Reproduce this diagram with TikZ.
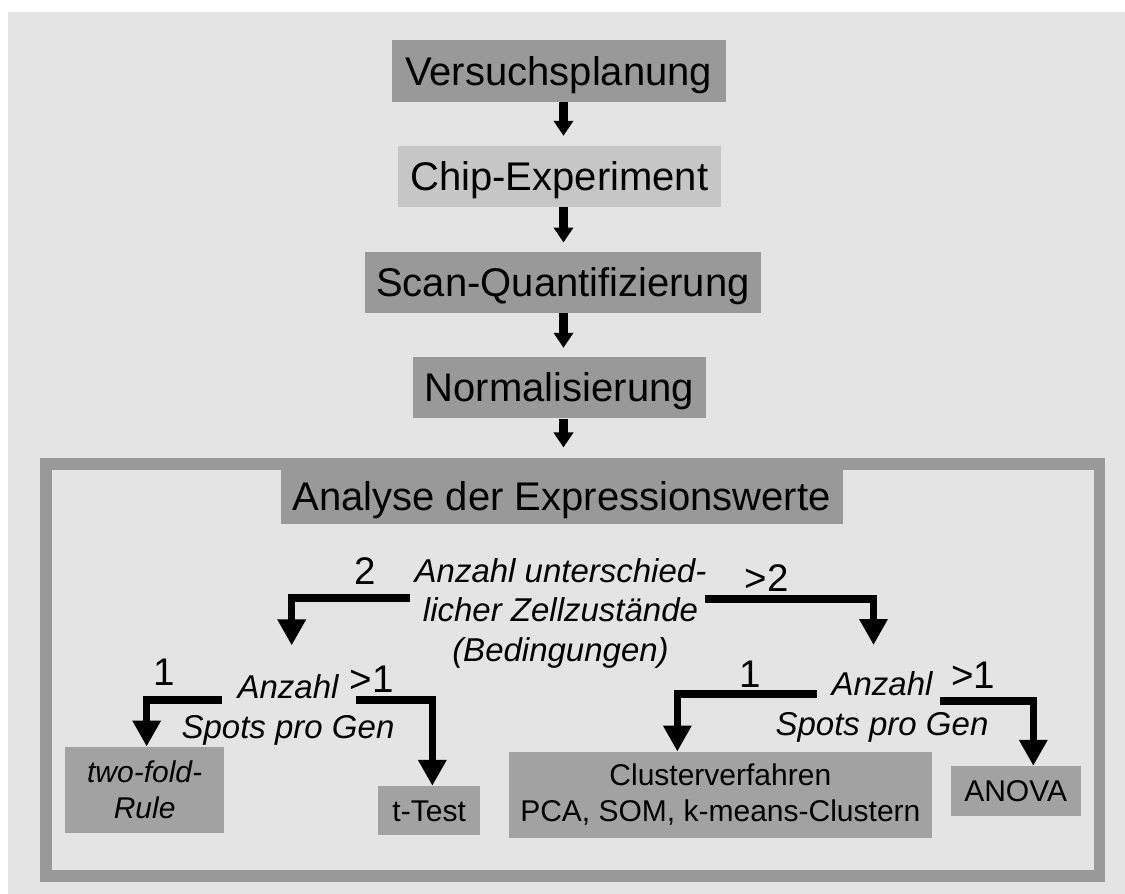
\documentclass[tikz,border=0pt]{standalone}
\usepackage{fontspec}
\setmainfont{Liberation Sans}
\usetikzlibrary{arrows.meta}
\definecolor{bgcol}{HTML}{E4E4E4}
\definecolor{boxdark}{HTML}{999999}
\definecolor{boxlight}{HTML}{C6C6C6}
\definecolor{boxmid}{HTML}{A2A2A2}
\begin{document}
\begin{tikzpicture}[x=1pt,y=-1pt,
  stage/.style={fill=boxdark, inner sep=0pt, font=\fontsize{40}{45}\selectfont,
                text height=28.6pt, text depth=0pt},
  result/.style={fill=boxmid, inner sep=0pt, align=center,
                 font=\fontsize{30}{36}\selectfont},
  oneline/.style={text height=21.5pt, text depth=0pt},
  question/.style={inner sep=0pt, align=center, anchor=north,
                   font=\fontsize{33}{39.5}\selectfont\itshape},
  count/.style={inner sep=0pt, font=\fontsize{38.5}{42}\selectfont,
                text height=27.6pt, text depth=0pt},
  flowarrow/.style={line width=9pt, -{Triangle[length=15pt,width=19pt]}},
  branch/.style={line width=7.5pt, line join=miter,
                 -{Triangle[length=26pt,width=27pt]}}]

% page and backdrop
\useasboundingbox (0,0) rectangle (1125,894);
\fill[white] (0,0) rectangle (1125,894);
\fill[bgcol] (8,12) rectangle (1125,894);

% processing chain
\node[stage, minimum width=334pt, minimum height=61.7pt] (plan) at (558.7,70.85) {Versuchsplanung};
\node[stage, fill=boxlight, minimum width=323.3pt, minimum height=61pt] (chip) at (559.35,176.2) {Chip-Experiment};
\node[stage, minimum width=396pt, minimum height=61pt] (scan) at (563,282.2) {Scan-Quantifizierung};
\node[stage, minimum width=293.3pt, minimum height=61.6pt] (norm) at (559.35,387.5) {Normalisierung};

% analysis frame with its title
\node[stage, minimum width=562pt, minimum height=56pt] (analyse) at (561.5,496) {Analyse der Expressionswerte};
\node[draw=boxdark, line width=11.7pt, inner sep=0pt,
      minimum width=1053.7pt, minimum height=411.8pt] (frame) at (572.65,669.9) {};

\coordinate (spine) at (563.5,0);
\draw[flowarrow] (plan.south -| spine) -- ([yshift=9.7pt]chip.north -| spine);
\draw[flowarrow] (chip.south -| spine) -- ([yshift=9pt]scan.north -| spine);
\draw[flowarrow] (scan.south -| spine) -- ([yshift=8.7pt]norm.north -| spine);
\draw[flowarrow] (norm.south -| spine) -- ([yshift=10.7pt]frame.north -| spine);

% decision texts
\node[question] (q1) at (560.5,558.3) {Anzahl unterschied-\\licher Zellzustände\\(Bedingungen)};
\node[question] (q2) at (288,674.4) {Anzahl\\Spots pro Gen};
\node[question] (q3) at (882,671.4) {Anzahl\\Spots pro Gen};

% results
\node[result, font=\fontsize{30}{35.6}\selectfont\itshape,
      minimum width=159.3pt, minimum height=86.6pt] (twofold) at (144.65,790) {two-fold-\\Rule};
\node[result, oneline, minimum width=101.7pt, minimum height=49pt] (ttest) at (429.15,810.5) {t-Test};
\node[result, minimum width=422.7pt, minimum height=86.6pt] (cluster) at (720.35,795) {Clusterverfahren\\PCA, SOM, k-means-Clustern};
\node[result, oneline, minimum width=130pt, minimum height=49.7pt] (anova) at (1015.7,790.85) {ANOVA};

% branch connectors
\coordinate (q1w) at (410,598);
\coordinate (q1e) at (705,599);
\coordinate (q2w) at (221.7,700);
\coordinate (q2e) at (356,700);
\coordinate (q3w) at (816.7,694);
\coordinate (q3e) at (940,701);

\draw[branch] (q1w) -| ([xshift=3.7pt,yshift=29pt]q2.north);
\draw[branch] (q1e) -| ([xshift=-8.5pt,yshift=26.4pt]q3.north);
\draw[branch] (q2w) -| ([xshift=2pt]twofold.north);
\draw[branch] (q2e) -| ([xshift=3.2pt]ttest.north);
\draw[branch] (q3w) -| ([xshift=-43pt]cluster.north);
\draw[branch] (q3e) -| ([xshift=17.6pt]anova.north);

% branch labels
\node[count] (c2) at (365,570.8) {2};
\node[count] (cmore2) at (766.7,577.5) {>2};
\node[count] (c1l) at (164,671.3) {1};
\node[count] (cmore1l) at (371.7,679) {>1};
\node[count] (c1r) at (750,673.3) {1};
\node[count] (cmore1r) at (973.3,675) {>1};
\end{tikzpicture}
\end{document}
